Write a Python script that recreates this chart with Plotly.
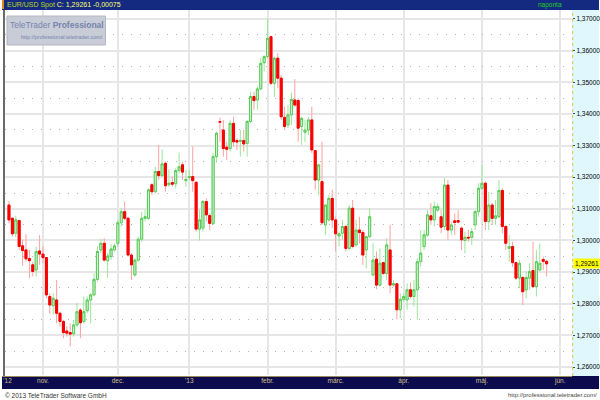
import plotly.graph_objects as go

# ---- data (EUR/USD daily) ----
opens = [1.3112,1.3070,1.3023,1.3063,1.2983,1.2970,1.2943,1.2923,1.2907,1.2967,
         1.2957,1.2946,1.2823,1.2794,1.2812,1.2770,1.2744,1.2714,1.2709,1.2705,
         1.2733,1.2780,1.2744,1.2778,1.2812,1.2828,1.2877,1.2970,1.2991,1.2936,
         1.2949,1.2970,1.2991,1.3056,1.3091,1.3070,1.2954,1.2891,1.2938,1.3004,
         1.3070,1.3070,1.3176,1.3154,1.3218,1.3205,1.3244,1.3176,1.3183,1.3179,
         1.3221,1.3239,1.3189,1.3199,1.3202,1.3184,1.3036,1.3039,1.3123,1.3079,
         1.3054,1.3265,1.3376,1.3349,1.3295,1.3291,1.3370,1.3316,1.3313,1.3316,
         1.3307,1.3376,1.3455,1.3444,1.3479,1.3562,1.3581,1.3644,1.3497,1.3576,
         1.3513,1.3389,1.3365,1.3397,1.3444,1.3442,1.3360,1.3342,1.3349,1.3381,
         1.3284,1.3191,1.3186,1.3049,1.3065,1.3133,1.3065,1.3014,1.3023,1.3044,
         1.2975,1.3102,1.2986,1.3033,1.3025,1.2970,1.3012,1.2891,1.2941,1.2859,
         1.2930,1.2896,1.2970,1.2859,1.2863,1.2781,1.2814,1.2812,1.2844,1.2823,
         1.2844,1.2933,1.2981,1.3017,1.3078,1.3065,1.3096,1.3075,1.3044,1.3175,
         1.3033,1.3062,1.3063,1.3039,1.3000,1.3010,1.3010,1.3049,1.3091,1.3165,
         1.3181,1.3060,1.3112,1.3070,1.3075,1.3158,1.3044,1.2975,1.2981,1.2930,
         1.2881,1.2883,1.2844,1.2881,1.2905,1.2854,1.2907,1.2940,1.2934]
highs = [1.3125,1.3075,1.3079,1.3065,1.3002,1.3020,1.2970,1.2933,1.2981,1.3017,
         1.2981,1.2946,1.2833,1.2833,1.2875,1.2775,1.2749,1.2728,1.2738,1.2749,
         1.2802,1.2786,1.2823,1.2823,1.2833,1.2896,1.2981,1.3004,1.3007,1.2960,
         1.2988,1.2991,1.3065,1.3102,1.3123,1.3075,1.2960,1.2944,1.3010,1.3091,
         1.3096,1.3165,1.3181,1.3233,1.3302,1.3288,1.3249,1.3225,1.3202,1.3228,
         1.3278,1.3249,1.3223,1.3223,1.3297,1.3186,1.3097,1.3128,1.3133,1.3086,
         1.3276,1.3344,1.3388,1.3381,1.3312,1.3381,1.3391,1.3323,1.3349,1.3349,
         1.3381,1.3470,1.3470,1.3486,1.3576,1.3586,1.3702,1.3646,1.3581,1.3592,
         1.3523,1.3423,1.3428,1.3467,1.3510,1.3449,1.3391,1.3381,1.3391,1.3423,
         1.3286,1.3239,1.3312,1.3112,1.3144,1.3160,1.3075,1.3028,1.3065,1.3049,
         1.3112,1.3128,1.3065,1.3075,1.3033,1.3012,1.3102,1.2991,1.2965,1.2975,
         1.2933,1.3007,1.3049,1.2875,1.2865,1.2833,1.2833,1.2865,1.2867,1.2875,
         1.2944,1.3033,1.3033,1.3096,1.3118,1.3123,1.3118,1.3096,1.3197,1.3191,
         1.3060,1.3086,1.3096,1.3044,1.3028,1.3033,1.3039,1.3096,1.3181,1.3239,
         1.3186,1.3154,1.3118,1.3128,1.3191,1.3165,1.3049,1.3017,1.2996,1.2933,
         1.2939,1.2886,1.2902,1.2928,1.2996,1.2970,1.2991,1.2949,1.2939]
lows = [1.3054,1.3012,1.3010,1.2970,1.2920,1.2933,1.2881,1.2886,1.2886,1.2923,
        1.2928,1.2817,1.2768,1.2765,1.2738,1.2728,1.2691,1.2696,1.2665,1.2696,
        1.2728,1.2691,1.2738,1.2770,1.2738,1.2823,1.2870,1.2960,1.2933,1.2881,
        1.2938,1.2965,1.2981,1.3044,1.3065,1.2949,1.2875,1.2886,1.2933,1.2996,
        1.3060,1.3065,1.3144,1.3149,1.3191,1.3202,1.3154,1.3170,1.3170,1.3165,
        1.3212,1.3191,1.3170,1.3191,1.3154,1.3028,1.3000,1.3028,1.3060,1.3033,
        1.3049,1.3246,1.3312,1.3265,1.3255,1.3281,1.3297,1.3286,1.3265,1.3281,
        1.3265,1.3370,1.3413,1.3413,1.3476,1.3534,1.3576,1.3491,1.3453,1.3481,
        1.3381,1.3349,1.3355,1.3365,1.3423,1.3312,1.3302,1.3312,1.3333,1.3276,
        1.3160,1.3144,1.3049,1.3018,1.3060,1.3039,1.2965,1.2981,1.3002,1.2965,
        1.2970,1.2975,1.2981,1.2991,1.2923,1.2912,1.3007,1.2886,1.2846,1.2854,
        1.2891,1.2875,1.2833,1.2854,1.2751,1.2754,1.2807,1.2781,1.2817,1.2791,
        1.2749,1.2917,1.2970,1.3012,1.3049,1.3044,1.3091,1.3023,1.3033,1.3002,
        1.3017,1.3017,1.3054,1.2970,1.2960,1.2996,1.2986,1.3033,1.3075,1.3160,
        1.3033,1.3033,1.3049,1.3049,1.3070,1.3023,1.2970,1.2933,1.2917,1.2875,
        1.2849,1.2796,1.2817,1.2844,1.2849,1.2823,1.2902,1.2907,1.2886]
closes = [1.3065,1.3021,1.3065,1.2981,1.2968,1.2942,1.2936,1.2902,1.2965,1.2957,
          1.2946,1.2828,1.2796,1.2817,1.2770,1.2744,1.2709,1.2707,1.2704,1.2733,
          1.2775,1.2740,1.2775,1.2812,1.2828,1.2877,1.2965,1.2991,1.2938,1.2951,
          1.2973,1.2983,1.3056,1.3091,1.3070,1.2954,1.2923,1.2938,1.3004,1.3070,
          1.3075,1.3160,1.3154,1.3218,1.3205,1.3242,1.3173,1.3181,1.3178,1.3221,
          1.3233,1.3216,1.3193,1.3202,1.3189,1.3036,1.3065,1.3123,1.3081,1.3054,
          1.3265,1.3339,1.3374,1.3291,1.3288,1.3370,1.3312,1.3311,1.3316,1.3305,
          1.3376,1.3455,1.3442,1.3479,1.3560,1.3581,1.3639,1.3497,1.3576,1.3513,
          1.3391,1.3360,1.3397,1.3446,1.3428,1.3355,1.3386,1.3349,1.3381,1.3286,
          1.3191,1.3239,1.3056,1.3112,1.3133,1.3065,1.3021,1.3021,1.3044,1.2975,
          1.3102,1.2981,1.3033,1.3025,1.2954,1.3012,1.3075,1.2938,1.2859,1.2928,
          1.2896,1.2986,1.2859,1.2863,1.2781,1.2814,1.2823,1.2844,1.2823,1.2844,
          1.2933,1.2960,1.3018,1.3081,1.3065,1.3107,1.3107,1.3042,1.3175,1.3033,
          1.3049,1.3057,1.3058,1.3002,1.3010,1.3008,1.3028,1.3091,1.3165,1.3181,
          1.3060,1.3112,1.3070,1.3078,1.3158,1.3044,1.2991,1.2981,1.2930,1.2881,
          1.2928,1.2838,1.2883,1.2902,1.2854,1.2933,1.2928,1.2934,1.29261]

day_idx = list(range(len(opens)))

# x-axis labels (trading-day index of month starts)
xtick_pos = [-0.4, 10, 32, 53, 76, 96, 116, 139, 162]
xtick_text = ["'12", "nov.", "dec.", "'13", "febr.", "márc.", "ápr.", "máj.", "jún."]
month_grid = [10, 32, 53, 76, 96, 116, 139, 162]

ytick_vals = [1.26, 1.27, 1.28, 1.29, 1.30, 1.31, 1.32, 1.33, 1.34, 1.35, 1.36, 1.37]
ytick_text = ["1,26000", "1,27000", "1,28000", "1,29000", "1,30000", "1,31000",
              "1,32000", "1,33000", "1,34000", "1,35000", "1,36000", "1,37000"]
ymid_vals = [1.265, 1.275, 1.285, 1.295, 1.305, 1.315, 1.325, 1.335, 1.345, 1.355, 1.365]

last_close = 1.29261
last_text = "1,29261"
header_name = "EUR/USD Spot"
header_value = "C: 1,29261 -0,00075"

W, H = 600, 400
def px(x): return x / W
def py(y): return 1 - y / H

FONT = "Liberation Sans, Arial, sans-serif"

body_hi = [max(o, c) for o, c in zip(opens, closes)]
body_lo = [min(o, c) for o, c in zip(opens, closes)]

fig = go.Figure()
# wicks (light colours)
fig.add_trace(go.Candlestick(
    x=day_idx, open=opens, high=highs, low=lows, close=closes,
    increasing=dict(line=dict(color="#9ae69a", width=1), fillcolor="#d6f5d6"),
    decreasing=dict(line=dict(color="#ffa0a0", width=1), fillcolor="#ff0000"),
    whiskerwidth=0, hoverinfo="skip"))
# bodies
fig.add_trace(go.Candlestick(
    x=day_idx, open=opens, high=body_hi, low=body_lo, close=closes,
    increasing=dict(line=dict(color="#58c858", width=1), fillcolor="#d6f5d6"),
    decreasing=dict(line=dict(color="#f40000", width=1), fillcolor="#ff0000"),
    whiskerwidth=0, hoverinfo="skip"))

fig.update_layout(
    width=W, height=H, margin=dict(l=0, r=0, t=0, b=0),
    paper_bgcolor="white", plot_bgcolor="white", showlegend=False,
    font=dict(family=FONT), boxgap=0.15,
    xaxis=dict(domain=[px(3), px(573)], range=[-1.17, 165.5],
               rangeslider=dict(visible=False),
               tickmode="array", tickvals=xtick_pos, ticktext=xtick_text,
               showgrid=False, zeroline=False, ticks="",
               tickfont=dict(size=6.5, color="#d2c08a"),
               minor=dict(tickmode="array", tickvals=month_grid, showgrid=True,
                          gridcolor="#e6e6e6", gridwidth=1.5)),
    yaxis=dict(domain=[py(375), py(10)], range=[1.25748, 1.37284], side="right",
               tickmode="array", tickvals=ytick_vals, ticktext=ytick_text,
               showgrid=True, gridcolor="#e6e6e6", gridwidth=1.5, zeroline=False,
               ticks="outside", ticklen=2, tickcolor="#444",
               tickfont=dict(size=6.5, color="#000"),
               minor=dict(tickmode="array", tickvals=ymid_vals, showgrid=True,
                          gridcolor="#b4b4b4", gridwidth=1, griddash="1px,8px")),
)

shapes = [
    # right value panel
    dict(type="rect", xref="paper", yref="paper", x0=px(573), x1=1, y0=py(376), y1=py(10),
         fillcolor="#dff7fd", line=dict(width=0), layer="below"),
    dict(type="line", xref="paper", yref="paper", x0=px(573.5), x1=px(573.5), y0=py(376), y1=py(10),
         line=dict(color="#d8c850", width=1, dash="dot")),
    # header bar
    dict(type="rect", xref="paper", yref="paper", x0=0, x1=1, y0=py(10), y1=1,
         fillcolor="#142a80", line=dict(width=0), layer="below"),
    dict(type="rect", xref="paper", yref="paper", x0=0, x1=px(2), y0=py(9), y1=1,
         fillcolor="#e08a20", line=dict(width=0)),
    # bottom date bar
    dict(type="rect", xref="paper", yref="paper", x0=0, x1=1, y0=py(389), y1=py(376),
         fillcolor="#0b0b4e", line=dict(width=0), layer="below"),
    dict(type="line", xref="paper", yref="paper", x0=0, x1=px(573), y0=py(376.5), y1=py(376.5),
         line=dict(color="#9a8c58", width=1)),
    # left border
    dict(type="line", xref="paper", yref="paper", x0=px(2), x1=px(2), y0=py(376), y1=py(10),
         line=dict(color="#3a3a3a", width=1.5)),
    # watermark box
    dict(type="rect", xref="paper", yref="paper", x0=px(5), x1=px(104), y0=py(45), y1=py(16),
         fillcolor="#c8ccd6", line=dict(color="#b4b8c4", width=1)),
]
fig.update_layout(shapes=shapes)

ann = [
    dict(xref="paper", yref="paper", x=px(3), y=py(5), xanchor="left", yanchor="middle",
         text=f"<span style='color:#b8d820'>{header_name}</span> "
              f"<span style='color:#ffff70'>{header_value}</span>",
         showarrow=False, font=dict(size=7, family=FONT)),
    dict(xref="paper", yref="paper", x=px(551), y=py(5), xanchor="center", yanchor="middle",
         text="naponta", showarrow=False, font=dict(size=6.5, color="#22cc22", family=FONT)),
    dict(xref="paper", yref="paper", x=px(55), y=py(24.5), xanchor="center", yanchor="middle",
         text="TeleTrader <b>Professional</b>", showarrow=False,
         font=dict(size=8.5, color="#7684ae", family=FONT)),
    dict(xref="paper", yref="paper", x=px(60), y=py(36.5), xanchor="center", yanchor="middle",
         text="http://professional.teletrader.com/", showarrow=False,
         font=dict(size=5.5, color="#7684ae", family=FONT)),
    dict(xref="paper", yref="y", x=px(574), y=last_close, xanchor="left", yanchor="middle",
         text=last_text, showarrow=False, bgcolor="#ffff00", borderpad=1,
         font=dict(size=6.5, color="#000", family=FONT)),
    dict(xref="paper", yref="paper", x=px(1), y=py(395), xanchor="left", yanchor="middle",
         text="© 2013 TeleTrader Software GmbH", showarrow=False,
         font=dict(size=6.5, color="#333", family=FONT)),
    dict(xref="paper", yref="paper", x=1, y=py(395), xanchor="right", yanchor="middle",
         text="http://professional.teletrader.com/", showarrow=False,
         font=dict(size=6, color="#444", family=FONT)),
]
fig.update_layout(annotations=ann)

fig.write_html("out.html", config={"displayModeBar": False},
               post_script="document.body.style.margin='0px';document.body.style.overflow='hidden';")
